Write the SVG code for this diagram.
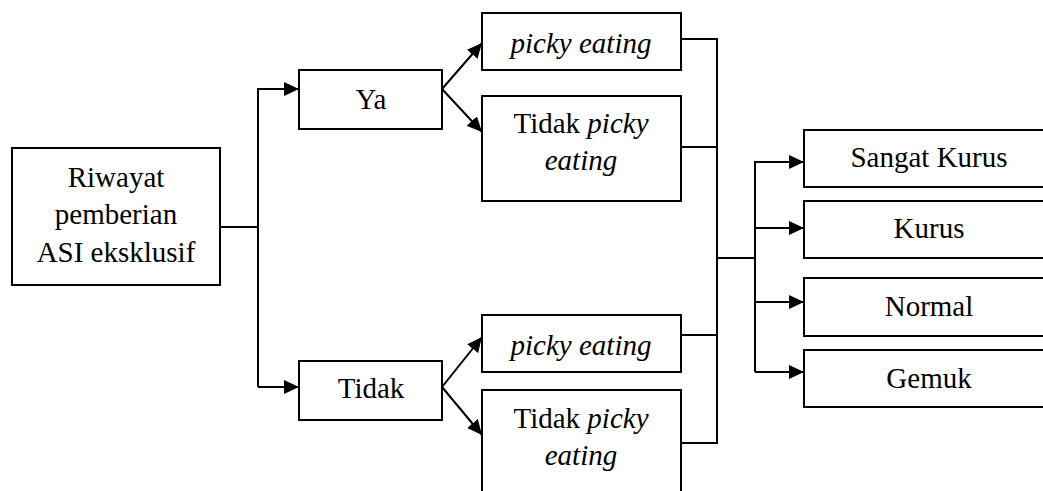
<svg xmlns="http://www.w3.org/2000/svg" width="1043" height="491" viewBox="0 0 1043 491">
<defs>
<marker id="ah" markerWidth="16" markerHeight="14" refX="15" refY="7" orient="auto" markerUnits="userSpaceOnUse">
<path d="M0,0 L15,7 L0,14 Z" fill="#000"/>
</marker>
<style>
.box{fill:#fff;stroke:#000;stroke-width:2}
.t{font-family:"Liberation Serif","Times New Roman",serif;font-size:29px;fill:#000;text-anchor:middle}
.i{font-style:italic}
.c{fill:none;stroke:#000;stroke-width:2}
</style>
</defs>
<rect width="1043" height="491" fill="#fff"/>
<g id="connectors">
<path class="c" d="M220,227 H258"/>
<path class="c" d="M258,387 V89 H299" marker-end="url(#ah)"/>
<path class="c" d="M258,387 H299" marker-end="url(#ah)"/>
<path class="c" d="M442,89 L482,43" marker-end="url(#ah)"/>
<path class="c" d="M442,89 L482,132" marker-end="url(#ah)"/>
<path class="c" d="M442,387 L482,337" marker-end="url(#ah)"/>
<path class="c" d="M442,387 L482,435" marker-end="url(#ah)"/>
<path class="c" d="M681,39 H717 V443 H681"/>
<path class="c" d="M681,147 H717"/>
<path class="c" d="M681,335 H717"/>
<path class="c" d="M717,258 H755"/>
<path class="c" d="M755,372 V162 H804" marker-end="url(#ah)"/>
<path class="c" d="M755,228 H804" marker-end="url(#ah)"/>
<path class="c" d="M755,302 H804" marker-end="url(#ah)"/>
<path class="c" d="M755,372 H804" marker-end="url(#ah)"/>
</g>
<g id="riwayat">
<rect class="box" x="12" y="148" width="208" height="137"/>
<text class="t" x="116" y="187">Riwayat</text>
<text class="t" x="116" y="224">pemberian</text>
<text class="t" x="116" y="262">ASI eksklusif</text>
</g>
<g id="ya">
<rect class="box" x="299" y="70" width="143" height="59"/>
<text class="t" x="371" y="109">Ya</text>
</g>
<g id="tidak">
<rect class="box" x="299" y="361" width="143" height="59"/>
<text class="t" x="371" y="398">Tidak</text>
</g>
<g id="ya-picky">
<rect class="box" x="482" y="13" width="199" height="57"/>
<text class="t i" x="581" y="53">picky eating</text>
</g>
<g id="ya-tidak-picky">
<rect class="box" x="482" y="96" width="199" height="105"/>
<text class="t" x="581" y="133">Tidak <tspan class="i">picky</tspan></text>
<text class="t i" x="581" y="170">eating</text>
</g>
<g id="tidak-picky">
<rect class="box" x="482" y="315" width="199" height="57"/>
<text class="t i" x="581" y="355">picky eating</text>
</g>
<g id="tidak-tidak-picky">
<rect class="box" x="482" y="390" width="199" height="105"/>
<text class="t" x="581" y="428">Tidak <tspan class="i">picky</tspan></text>
<text class="t i" x="581" y="465">eating</text>
</g>
<g id="sangat-kurus">
<rect class="box" x="804" y="130" width="250" height="57"/>
<text class="t" x="929" y="167">Sangat Kurus</text>
</g>
<g id="kurus">
<rect class="box" x="804" y="201" width="250" height="57"/>
<text class="t" x="929" y="238">Kurus</text>
</g>
<g id="normal">
<rect class="box" x="804" y="278" width="250" height="58"/>
<text class="t" x="929" y="316">Normal</text>
</g>
<g id="gemuk">
<rect class="box" x="804" y="350" width="250" height="57"/>
<text class="t" x="929" y="388">Gemuk</text>
</g>
</svg>
